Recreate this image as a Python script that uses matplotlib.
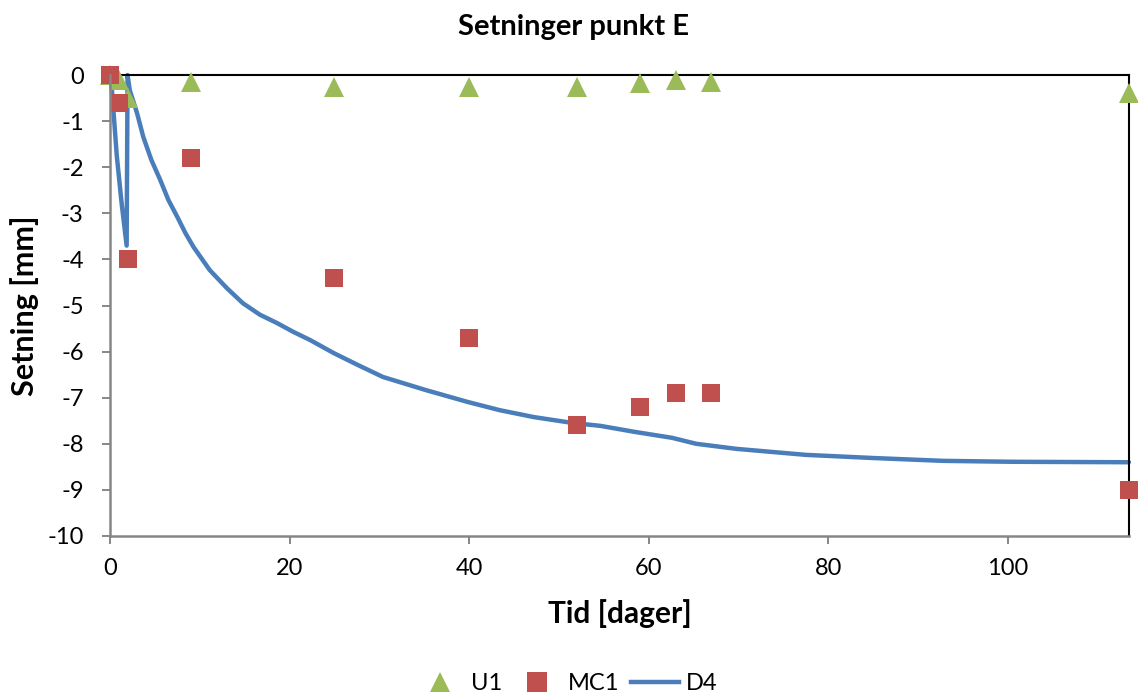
import matplotlib
matplotlib.use("Agg")
import matplotlib.pyplot as plt
from matplotlib.lines import Line2D

plt.rcParams['font.family'] = ['Lato', 'DejaVu Sans']
plt.rcParams['axes.unicode_minus'] = False

# Measured settlement, U1 and MC1
u1_days = [0, 1, 2, 9, 25, 40, 52, 59, 63, 67, 113.5]
u1_mm = [0, -0.1, -0.5, -0.15, -0.25, -0.25, -0.25, -0.18, -0.1, -0.15, -0.4]

mc1_days = [0, 1, 2, 9, 25, 40, 52, 59, 63, 67, 113.5]
mc1_mm = [0, -0.6, -4.0, -1.8, -4.4, -5.7, -7.6, -7.2, -6.9, -6.9, -9.0]

# Calculated settlement, D4
d4_days = [0, 0.2, 0.75, 1.3, 1.85, 1.95, 2.2, 3.0, 3.7, 4.6, 5.6, 6.5, 7.5,
           8.4, 9.3, 11.1, 13.0, 14.8, 16.7, 18.6, 20.4, 22.3, 24.9, 27.6,
           30.4, 35.1, 39.8, 43.4, 47.2, 51.6, 54.6, 58.4, 62.6, 65.3, 69.8,
           77.5, 85.2, 92.8, 100.5, 113.5]
d4_mm = [0, -0.3, -1.75, -2.8, -3.7, 0, -0.33, -0.82, -1.34, -1.84, -2.28,
         -2.71, -3.08, -3.43, -3.73, -4.23, -4.62, -4.95, -5.2, -5.38, -5.57,
         -5.75, -6.03, -6.29, -6.55, -6.83, -7.09, -7.27, -7.42, -7.55, -7.61,
         -7.74, -7.87, -8.0, -8.11, -8.24, -8.31, -8.37, -8.39, -8.4]

x_ticks = [0, 20, 40, 60, 80, 100]
y_ticks = list(range(0, -11, -1))

blue = '#4A7EBB'
red = '#C0504D'
green = '#9BBB59'
gray = '#868686'

fig = plt.figure(figsize=(11.38, 6.95), dpi=100)
ax = fig.add_axes([0.0967, 0.2288, 0.8953, 0.6632])

ax.plot(d4_days, d4_mm, color=blue, lw=3.2, solid_capstyle='round',
        solid_joinstyle='round', zorder=2, clip_on=False)
ax.plot(u1_days, u1_mm, ls='none', marker='^', ms=14, color=green,
        markeredgewidth=0, zorder=3, clip_on=False)
ax.plot(mc1_days, mc1_mm, ls='none', marker='s', ms=13.5, color=red,
        markeredgewidth=0, zorder=4, clip_on=False)

ax.set_xlim(0, 113.5)
ax.set_ylim(-10, 0)
ax.set_xticks(x_ticks)
ax.set_yticks(y_ticks)
ax.set_xticklabels([str(v) for v in x_ticks])
ax.set_yticklabels([str(v) for v in y_ticks])

for side in ('top', 'right'):
    ax.spines[side].set_color('black')
    ax.spines[side].set_linewidth(1.5)
for side in ('left', 'bottom'):
    ax.spines[side].set_color(gray)
    ax.spines[side].set_linewidth(1.8)
    ax.spines[side].set_zorder(5)

ax.tick_params(axis='both', direction='out', length=6, width=1.4,
               color=gray, labelsize=17)
ax.tick_params(axis='x', pad=10)
ax.tick_params(axis='y', pad=13)

fig.text(0.504, 0.961, 'Setninger punkt E', fontsize=21, fontweight='bold',
         ha='center', va='center')
ax.set_xlabel('Tid [dager]', fontsize=21.5, fontweight='bold', labelpad=14)
ax.set_ylabel('Setning [mm]', fontsize=22, fontweight='bold', labelpad=6)

handles = [
    Line2D([], [], ls='none', marker='^', ms=14, color=green, markeredgewidth=0),
    Line2D([], [], ls='none', marker='s', ms=14, color=red, markeredgewidth=0),
    Line2D([], [], color=blue, lw=3.2),
]
fig.legend(handles, ['U1', 'MC1', 'D4'], loc='center', bbox_to_anchor=(0.498, 0.016),
           ncol=3, frameon=False, fontsize=17, handlelength=2.0,
           columnspacing=0.5, handletextpad=0.3)

fig.savefig('out.png', dpi=100)
